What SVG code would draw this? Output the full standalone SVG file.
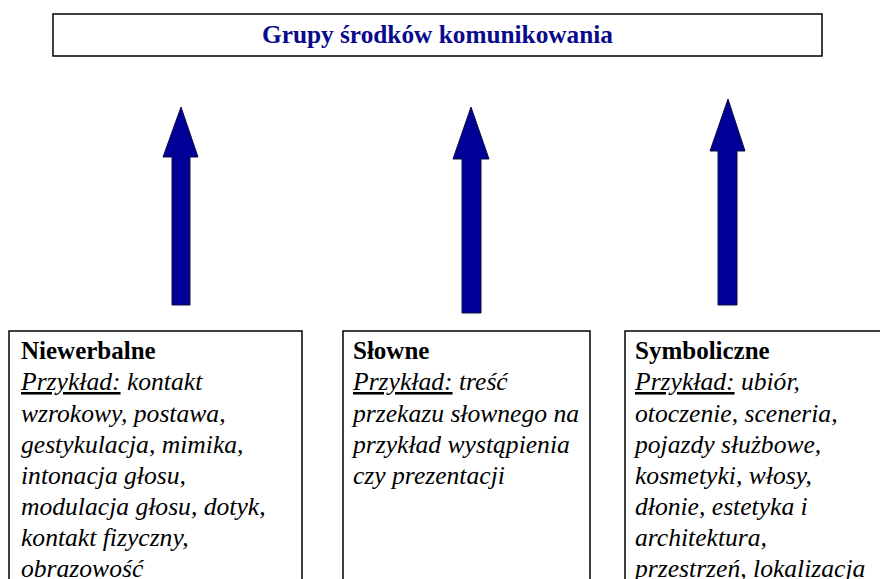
<svg xmlns="http://www.w3.org/2000/svg" width="880" height="579" viewBox="0 0 880 579">
  <style>
    .box { fill: #ffffff; stroke: #000000; stroke-width: 1.5; }
    text { font-family: "Liberation Serif", serif; font-size: 25px; }
    .title { font-weight: bold; fill: #0a0a8c; }
    .head { font-weight: bold; fill: #000000; }
    .body { font-style: italic; font-size: 25.6px; fill: #000000; }
    .arrow { fill: #000096; stroke: #101040; stroke-width: 1; }
  </style>
  <rect x="0" y="0" width="880" height="579" fill="#ffffff"/>

  <!-- header -->
  <g id="title">
    <rect class="box" x="53" y="14" width="769" height="42"/>
    <text class="title" x="437.5" y="43" text-anchor="middle" textLength="351" lengthAdjust="spacingAndGlyphs">Grupy środków komunikowania</text>
  </g>

  <!-- upward block arrows -->
  <g id="connectors">
    <polygon class="arrow" points="181,107 198,157 190,157 190,305 172,305 172,157 163,157"/>
    <polygon class="arrow" points="471,107 489,159 481,159 481,313 462,313 462,159 453,159"/>
    <polygon class="arrow" points="728,99 745,151 737,151 737,305 718,305 718,151 710,151"/>
  </g>

  <g id="niewerbalne">
    <rect class="box" x="9" y="331" width="293" height="260"/>
    <text class="head" x="21" y="359">Niewerbalne</text>
    <text class="body" x="21" y="390"><tspan text-decoration="underline">Przykład:</tspan> kontakt</text>
    <text class="body" x="21" y="422">wzrokowy, postawa,</text>
    <text class="body" x="21" y="453">gestykulacja, mimika,</text>
    <text class="body" x="21" y="484">intonacja głosu,</text>
    <text class="body" x="21" y="515">modulacja głosu, dotyk,</text>
    <text class="body" x="21" y="546">kontakt fizyczny,</text>
    <text class="body" x="21" y="577">obrazowość</text>
  </g>

  <g id="slowne">
    <rect class="box" x="343" y="331" width="247" height="260"/>
    <text class="head" x="353" y="359">Słowne</text>
    <text class="body" x="353" y="390"><tspan text-decoration="underline">Przykład:</tspan> treść</text>
    <text class="body" x="353" y="422">przekazu słownego na</text>
    <text class="body" x="353" y="453">przykład wystąpienia</text>
    <text class="body" x="353" y="484">czy prezentacji</text>
  </g>

  <g id="symboliczne">
    <rect class="box" x="625" y="331" width="270" height="260"/>
    <text class="head" x="635" y="359">Symboliczne</text>
    <text class="body" x="635" y="390"><tspan text-decoration="underline">Przykład:</tspan> ubiór,</text>
    <text class="body" x="635" y="422">otoczenie, sceneria,</text>
    <text class="body" x="635" y="453">pojazdy służbowe,</text>
    <text class="body" x="635" y="484">kosmetyki, włosy,</text>
    <text class="body" x="635" y="515">dłonie, estetyka i</text>
    <text class="body" x="635" y="546">architektura,</text>
    <text class="body" x="635" y="577">przestrzeń, lokalizacja</text>
  </g>
</svg>
